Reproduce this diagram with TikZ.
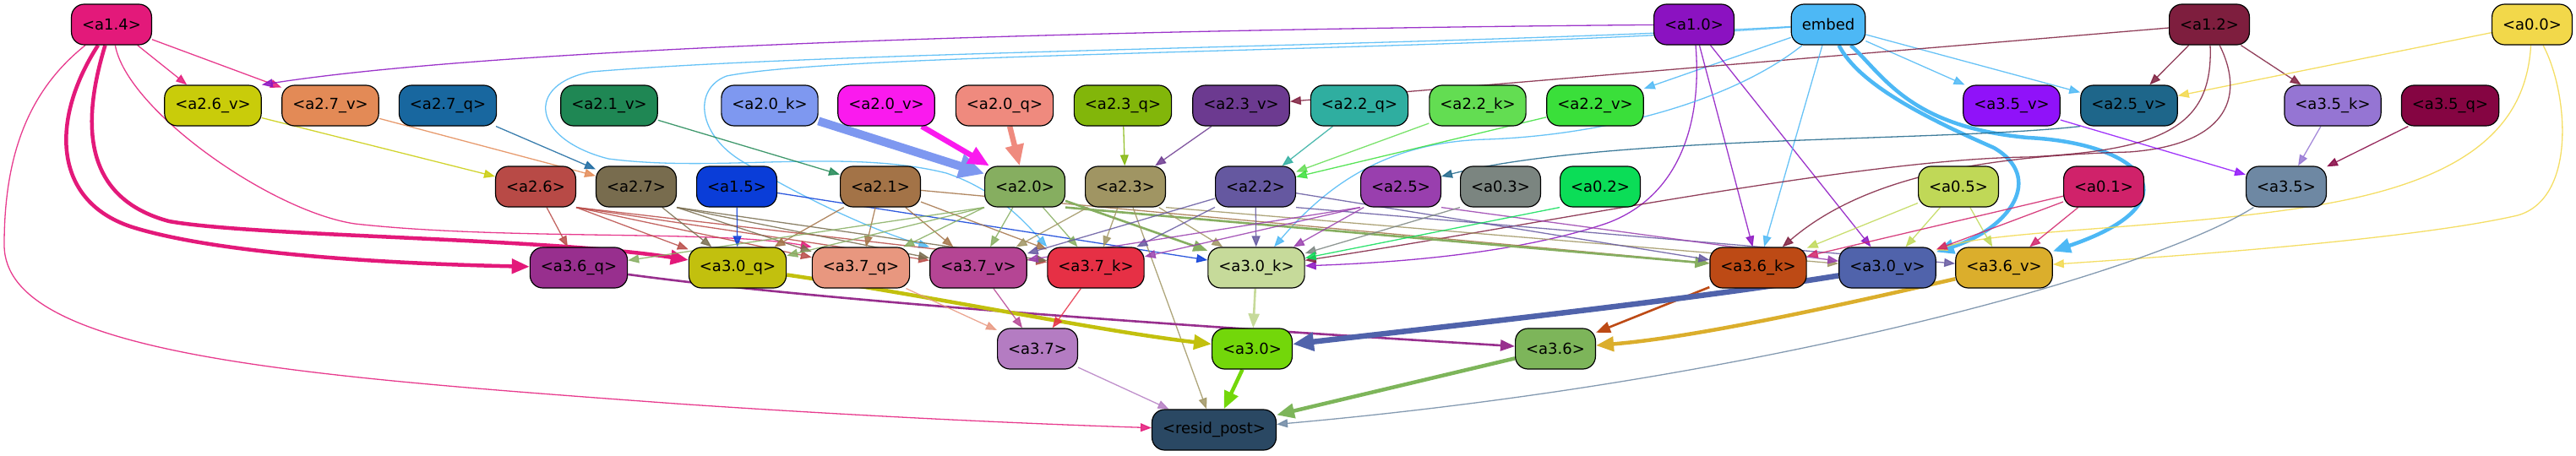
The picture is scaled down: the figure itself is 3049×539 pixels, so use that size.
\documentclass[tikz,border=0pt]{standalone}
\usepackage{fontspec}
\setmainfont{DejaVu Sans}
\usepackage{xcolor}
\usetikzlibrary{arrows.meta,backgrounds}

\definecolor{c14}{HTML}{E3197A}
\definecolor{c10}{HTML}{8B12C1}
\definecolor{cemb}{HTML}{4DB8F5}
\definecolor{c12}{HTML}{7E1E3E}
\definecolor{c00}{HTML}{F2D84A}
\definecolor{c26v}{HTML}{C9CC0A}
\definecolor{c27v}{HTML}{E38A56}
\definecolor{c27q}{HTML}{18679F}
\definecolor{c21v}{HTML}{1F8754}
\definecolor{c20k}{HTML}{7E98F0}
\definecolor{c20v}{HTML}{FA1AEE}
\definecolor{c20q}{HTML}{EF8A7E}
\definecolor{c23q}{HTML}{82B60A}
\definecolor{c23v}{HTML}{6C3A90}
\definecolor{c22q}{HTML}{2FAEA0}
\definecolor{c22k}{HTML}{63DD52}
\definecolor{c22v}{HTML}{3ADF3A}
\definecolor{c35v}{HTML}{9012F9}
\definecolor{c25v}{HTML}{1E668A}
\definecolor{c35k}{HTML}{9575D3}
\definecolor{c35q}{HTML}{850542}
\definecolor{c26}{HTML}{B84A46}
\definecolor{c27}{HTML}{786C4E}
\definecolor{c15}{HTML}{0A3DD8}
\definecolor{c21}{HTML}{A37347}
\definecolor{c20}{HTML}{86AE60}
\definecolor{c23}{HTML}{A09563}
\definecolor{c22}{HTML}{6558A0}
\definecolor{c25}{HTML}{993FAE}
\definecolor{c03}{HTML}{7B8580}
\definecolor{c02}{HTML}{0BDD57}
\definecolor{c05}{HTML}{C0D857}
\definecolor{c01}{HTML}{D0226A}
\definecolor{c35}{HTML}{6E88A3}
\definecolor{c36q}{HTML}{982F8E}
\definecolor{c30q}{HTML}{C2C00E}
\definecolor{c37q}{HTML}{E8977F}
\definecolor{c37v}{HTML}{B54594}
\definecolor{c37k}{HTML}{E63045}
\definecolor{c30k}{HTML}{C6DA9A}
\definecolor{c36k}{HTML}{BD4A15}
\definecolor{c30v}{HTML}{5063AB}
\definecolor{c36v}{HTML}{DBAE2C}
\definecolor{c37}{HTML}{B47CC2}
\definecolor{c30}{HTML}{73D70A}
\definecolor{c36}{HTML}{7DB55A}
\definecolor{cres}{HTML}{2A4863}

\begin{document}
\begin{tikzpicture}[x=1pt, y=-1pt,
  box/.style={draw=black, line width=1.2pt, rounded corners=15pt, minimum height=48pt,
    inner xsep=12.5pt, inner ysep=0pt, font=\fontsize{18}{20}\selectfont},
  e1/.style={line width=1.3pt, opacity=0.85, -{Triangle[length=13pt,width=10pt]}},
  e2/.style={line width=2.6pt, -{Triangle[length=17pt,width=13pt]}},
  e3/.style={line width=4.5pt, -{Triangle[length=21pt,width=17pt]}},
  e4/.style={line width=6.5pt, -{Triangle[length=25pt,width=21pt]}},
  e5/.style={line width=10pt, -{Triangle[length=30pt,width=28pt]}}]

\useasboundingbox (0,0) rectangle (3049,539);

% row 1
\node[box, fill=c14] (a14) at (132,29) {<a1.4>};
\node[box, fill=c10] (a10) at (2005,29) {<a1.0>};
\node[box, fill=cemb] (embed) at (2164,29) {embed};
\node[box, fill=c12] (a12) at (2615,29) {<a1.2>};
\node[box, fill=c00] (a00) at (2997,29) {<a0.0>};

% row 2
\node[box, fill=c26v] (a26v) at (252,125) {<a2.6\_v>};
\node[box, fill=c27v] (a27v) at (391,125) {<a2.7\_v>};
\node[box, fill=c27q] (a27q) at (530,125) {<a2.7\_q>};
\node[box, fill=c21v] (a21v) at (721,125) {<a2.1\_v>};
\node[box, fill=c20k] (a20k) at (911,125) {<a2.0\_k>};
\node[box, fill=c20v] (a20v) at (1049,125) {<a2.0\_v>};
\node[box, fill=c20q] (a20q) at (1189,125) {<a2.0\_q>};
\node[box, fill=c23q] (a23q) at (1329,125) {<a2.3\_q>};
\node[box, fill=c23v] (a23v) at (1469,125) {<a2.3\_v>};
\node[box, fill=c22q] (a22q) at (1609,125) {<a2.2\_q>};
\node[box, fill=c22k] (a22k) at (1749,125) {<a2.2\_k>};
\node[box, fill=c22v] (a22v) at (1888,125) {<a2.2\_v>};
\node[box, fill=c35v] (a35v) at (2381,125) {<a3.5\_v>};
\node[box, fill=c25v] (a25v) at (2520,125) {<a2.5\_v>};
\node[box, fill=c35k] (a35k) at (2761,125) {<a3.5\_k>};
\node[box, fill=c35q] (a35q) at (2900,125) {<a3.5\_q>};

% row 3
\node[box, fill=c26] (a26) at (634,221) {<a2.6>};
\node[box, fill=c27] (a27) at (753,221) {<a2.7>};
\node[box, fill=c15] (a15) at (872,221) {<a1.5>};
\node[box, fill=c21] (a21) at (1042,221) {<a2.1>};
\node[box, fill=c20] (a20) at (1213,221) {<a2.0>};
\node[box, fill=c23] (a23) at (1332,221) {<a2.3>};
\node[box, fill=c22] (a22) at (1486,221) {<a2.2>};
\node[box, fill=c25] (a25) at (1658,221) {<a2.5>};
\node[box, fill=c03] (a03) at (1776,221) {<a0.3>};
\node[box, fill=c02] (a02) at (1894,221) {<a0.2>};
\node[box, fill=c05] (a05) at (2318,221) {<a0.5>};
\node[box, fill=c01] (a01) at (2490,221) {<a0.1>};
\node[box, fill=c35] (a35) at (2706,221) {<a3.5>};

% row 4
\node[box, fill=c36q] (a36q) at (685,317) {<a3.6\_q>};
\node[box, fill=c30q] (a30q) at (873,317) {<a3.0\_q>};
\node[box, fill=c37q] (a37q) at (1019,317) {<a3.7\_q>};
\node[box, fill=c37v] (a37v) at (1158,317) {<a3.7\_v>};
\node[box, fill=c37k] (a37k) at (1297,317) {<a3.7\_k>};
\node[box, fill=c30k] (a30k) at (1487,317) {<a3.0\_k>};
\node[box, fill=c36k] (a36k) at (2081,317) {<a3.6\_k>};
\node[box, fill=c30v] (a30v) at (2234,317) {<a3.0\_v>};
\node[box, fill=c36v] (a36v) at (2372,317) {<a3.6\_v>};

% rows 5 and 6
\node[box, fill=c37] (a37) at (1228,413) {<a3.7>};
\node[box, fill=c30] (a30) at (1482,413) {<a3.0>};
\node[box, fill=c36] (a36) at (1841,413) {<a3.6>};
\node[box, fill=cres] (resid) at (1437,509) {<resid\_post>};

\begin{scope}[on background layer]
% from the top row
\draw[e1, c14] (a14) -- (a26v);
\draw[e1, c14] (a14) -- (a27v);
\draw[e1, c10] (a10) .. controls (1300,35) and (600,55) .. (a26v.north east);
\draw[e1, cemb] (embed) -- (a22v);
\draw[e1, cemb] (embed) -- (a35v);
\draw[e1, cemb] (embed) -- (a25v);
\draw[e1, c12] (a12) -- (a23v);
\draw[e1, c12] (a12) -- (a25v);
\draw[e1, c12] (a12) -- (a35k);
\draw[e1, c00] (a00) -- (a25v);

\draw[e3, c14] (a14) .. controls (60,140) and (60,240) .. (160,270) .. controls (260,300) and (450,312) .. (a36q);
\draw[e3, c14] (a14) .. controls (95,150) and (100,235) .. (200,262) .. controls (300,280) and (650,282) .. (a30q);
\draw[e1, c14] (a14) .. controls (150,130) and (320,250) .. (420,265) .. controls (600,285) and (850,272) .. (a37q.north west);
\draw[e1, c14] (a14) .. controls (30,110) and (5,190) .. (5,290) .. controls (5,420) and (350,445) .. (800,478) .. controls (1050,495) and (1250,503) .. (resid);

\draw[e1, c10] (a10) .. controls (2015,150) and (1985,235) .. (1900,265) .. controls (1780,305) and (1620,312) .. (a30k);
\draw[e1, c10] (a10) -- (a36k);
\draw[e1, c10] (a10) -- (a30v);

\draw[e1, cemb] (embed) .. controls (1700,55) and (1000,60) .. (700,85) .. controls (620,100) and (630,165) .. (720,188) .. controls (850,205) and (1000,175) .. (1120,205) .. controls (1180,225) and (1215,265) .. (a37k.north west);
\draw[e1, cemb] (embed) .. controls (1700,62) and (1000,62) .. (860,90) .. controls (820,105) and (825,160) .. (880,192) .. controls (960,240) and (1040,275) .. (a37v.north west);
\draw[e1, cemb] (embed) .. controls (2050,120) and (1900,160) .. (1760,165) .. controls (1640,168) and (1570,220) .. (a30k);
\draw[e1, cemb] (embed) -- (a36k);
\draw[e3, cemb] (embed) .. controls (2200,100) and (2280,140) .. (2360,175) .. controls (2420,210) and (2380,270) .. (a30v);
\draw[e3, cemb] (embed) .. controls (2230,90) and (2260,150) .. (2400,163) .. controls (2540,170) and (2600,240) .. (a36v);

\draw[e1, c12] (a12) .. controls (2620,150) and (2560,178) .. (2400,186) .. controls (2200,188) and (1800,270) .. (a30k);
\draw[e1, c12] (a12) .. controls (2660,120) and (2630,172) .. (2520,180) .. controls (2330,185) and (2200,215) .. (a36k);
\draw[e1, c00] (a00) .. controls (2990,150) and (2920,210) .. (2760,240) .. controls (2600,270) and (2360,272) .. (a30v);
\draw[e1, c00] (a00) .. controls (3040,110) and (3050,235) .. (2980,255) .. controls (2850,285) and (2550,305) .. (a36v);

% second row into third row
\draw[e1, c26v] (a26v) -- (a26);
\draw[e1, c27v] (a27v) -- (a27);
\draw[e1, c27q] (a27q) -- (a27);
\draw[e1, c21v] (a21v) -- (a21);
\draw[e5, c20k] (a20k) -- (a20);
\draw[e4, c20v] (a20v) -- (a20);
\draw[e4, c20q] (a20q) -- (a20);
\draw[e1, c23q] (a23q) -- (a23);
\draw[e1, c23v] (a23v) -- (a23);
\draw[e1, c22q] (a22q) -- (a22);
\draw[e1, c22k] (a22k) -- (a22);
\draw[e1, c22v] (a22v) -- (a22);
\draw[e1, c25v] (a25v.south west) .. controls (2300,168) and (1900,160) .. (a25);
\draw[e1, c35v] (a35v) -- (a35);
\draw[e1, c35k] (a35k) -- (a35);
\draw[e1, c35q] (a35q) -- (a35);

% third row into fourth row
\draw[e1, c26] (a26) -- (a36q);
\draw[e1, c26] (a26.south east) -- (a30q);
\draw[e1, c26] (a26.south east) -- (a37q);
\draw[e1, c26] (a26.south east) -- (a37v);
\draw[e1, c26] (a26.south east) -- (a37k);
\draw[e1, c27] (a27) -- (a30q);
\draw[e1, c27] (a27.south east) -- (a37q);
\draw[e1, c27] (a27.south east) -- (a37v);
\draw[e1, c27] (a27.south east) -- (a37k);
\draw[e1, c15] (a15) -- (a30q);
\draw[e1, c15] (a15) -- (a30k);
\draw[e1, c21] (a21) -- (a30q);
\draw[e1, c21] (a21) -- (a37q);
\draw[e1, c21] (a21) -- (a37v);
\draw[e1, c21] (a21) -- (a37k);
\draw[e1, c21] (a21) -- (a36k);
\draw[e1, c20] (a20.south west) -- (a36q);
\draw[e1, c20] (a20.south west) -- (a30q);
\draw[e1, c20] (a20.south west) -- (a37q);
\draw[e1, c20] (a20) -- (a37v);
\draw[e1, c20] (a20) -- (a37k);
\draw[e2, c20] (a20) -- (a30k);
\draw[e2, c20] (a20.south east) -- (a36k);
\draw[e1, c23] (a23) -- (a37v);
\draw[e1, c23] (a23) -- (a37k);
\draw[e1, c23] (a23) -- (a30k);
\draw[e1, c23] (a23.south east) -- (a30v);
\draw[e1, c23] (a23) -- (resid);
\draw[e1, c22] (a22) -- (a37v);
\draw[e1, c22] (a22) -- (a37k);
\draw[e1, c22] (a22) -- (a30k);
\draw[e1, c22] (a22) -- (a36k);
\draw[e1, c22] (a22.south east) -- (a36v);
\draw[e1, c25] (a25.south west) -- (a37v);
\draw[e1, c25] (a25.south west) -- (a37k);
\draw[e1, c25] (a25) -- (a30k);
\draw[e1, c25] (a25.south east) -- (a30v);
\draw[e1, c03] (a03.south west) -- (a30k);
\draw[e1, c02] (a02.south west) -- (a30k);
\draw[e1, c05] (a05) -- (a36k);
\draw[e1, c05] (a05) -- (a30v);
\draw[e1, c05] (a05) -- (a36v);
\draw[e1, c01] (a01) -- (a36k);
\draw[e1, c01] (a01) -- (a30v);
\draw[e1, c01] (a01) -- (a36v);
\draw[e1, c35] (a35) .. controls (2550,320) and (2100,450) .. (resid);

% fourth row down
\draw[e2, c36q] (a36q) .. controls (1000,360) and (1500,392) .. (a36);
\draw[e3, c30q] (a30q) .. controls (1100,350) and (1300,392) .. (a30);
\draw[e1, c37q] (a37q) -- (a37);
\draw[e1, c37v] (a37v) -- (a37);
\draw[e1, c37k] (a37k) -- (a37);
\draw[e2, c30k] (a30k) -- (a30);
\draw[e2, c36k] (a36k) -- (a36);
\draw[e4, c30v] (a30v) .. controls (2000,355) and (1700,388) .. (a30);
\draw[e3, c36v] (a36v) .. controls (2150,368) and (2000,400) .. (a36);

\draw[e1, c37] (a37) -- (resid);
\draw[e3, c30] (a30) -- (resid);
\draw[e3, c36] (a36) -- (resid);
\end{scope}

\end{tikzpicture}
\end{document}
